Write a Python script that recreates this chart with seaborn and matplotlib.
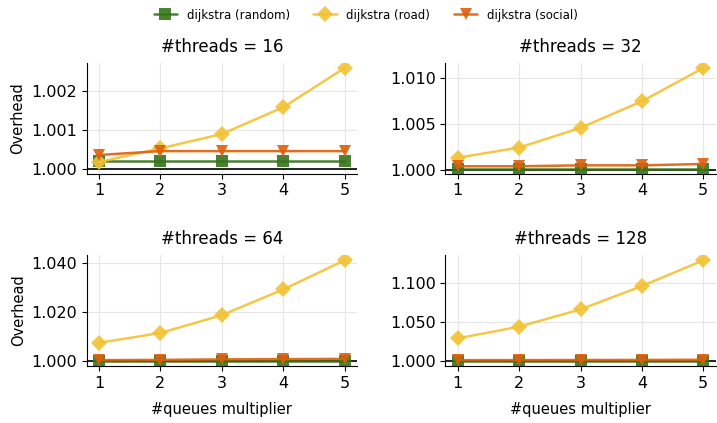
import pandas as pd
import matplotlib.pyplot as plt
import matplotlib.ticker as mticker
import seaborn as sns

# values
multipliers = [1, 2, 3, 4, 5]
threads = [16, 32, 64, 128]
variants = ['dijkstra (random)', 'dijkstra (road)', 'dijkstra (social)']

random_overhead = {
    16: [1.0002, 1.0002, 1.0002, 1.0002, 1.0002],
    32: [1.0002, 1.0002, 1.0002, 1.0002, 1.0002],
    64: [1.0002, 1.0002, 1.0002, 1.0002, 1.0002],
    128: [1.0003, 1.0003, 1.0003, 1.0003, 1.0003],
}
road_overhead = {
    16: [1.00017, 1.00052, 1.00089, 1.00158, 1.00259],
    32: [1.00138, 1.00248, 1.00461, 1.0075, 1.0111],
    64: [1.0075, 1.0115, 1.0187, 1.0291, 1.0409],
    128: [1.029, 1.0439, 1.066, 1.0957, 1.1285],
}
social_overhead = {
    16: [1.00035, 1.00045, 1.00045, 1.00045, 1.00045],
    32: [1.00045, 1.00045, 1.00055, 1.00055, 1.0007],
    64: [1.0005, 1.0006, 1.0008, 1.0009, 1.0010],
    128: [1.0012, 1.0013, 1.0014, 1.0015, 1.0017],
}

colors = ['#35741a', '#f2c234', '#dd5f0b']
markers = ['s', 'D', 'v']
ytick_steps = {16: 0.001, 32: 0.005, 64: 0.02, 128: 0.05}

rows = []
for t in threads:
    for name, series in zip(variants, [random_overhead, road_overhead, social_overhead]):
        for m, v in zip(multipliers, series[t]):
            rows.append({'threads': t, 'variant': name, 'multiplier': m, 'overhead': v})
df = pd.DataFrame(rows)

sns.set_style('ticks', {'axes.grid': True, 'grid.color': '0.9', 'axes.edgecolor': 'black',
                        'text.color': 'black', 'axes.labelcolor': 'black',
                        'xtick.color': 'black', 'ytick.color': 'black'})
plt.rcParams['font.family'] = ['DejaVu Sans']

fig, axes = plt.subplots(2, 2, figsize=(7.17, 4.23), dpi=100)
fig.subplots_adjust(left=0.121, right=0.998, top=0.851, bottom=0.135, wspace=0.328, hspace=0.739)

for ax, t in zip(axes.flat, threads):
    sub = df[df['threads'] == t]
    sns.lineplot(data=sub, x='multiplier', y='overhead', hue='variant', style='variant',
                 hue_order=variants, style_order=variants, palette=colors,
                 markers=markers, dashes=False, markersize=8, markeredgewidth=0,
                 linewidth=1.8, alpha=0.9, ax=ax)
    ax.axhline(1.0, color='black', linewidth=1.2, zorder=1)
    ax.set_title(f'#threads = {t}', fontsize=12, pad=8)
    ax.set_xticks(multipliers)
    ax.yaxis.set_major_locator(mticker.MultipleLocator(ytick_steps[t]))
    ax.yaxis.set_major_formatter(mticker.FormatStrFormatter('%.3f'))
    ax.tick_params(labelsize=11.5)
    ax.set_xlabel('')
    ax.set_ylabel('')
    ax.get_legend().remove()
    sns.despine(ax=ax)

for ax in axes[1]:
    ax.set_xlabel('#queues multiplier', fontsize=10.5, labelpad=8)
for ax in axes[:, 0]:
    ax.set_ylabel('Overhead', fontsize=10.5)

handles, labels = axes[0, 0].get_legend_handles_labels()
fig.legend(handles, labels, loc='upper center', bbox_to_anchor=(0.51, 1.005), ncol=3,
           frameon=False, fontsize=8.5, handlelength=2.0, columnspacing=2.0)

plt.savefig('out.png')
